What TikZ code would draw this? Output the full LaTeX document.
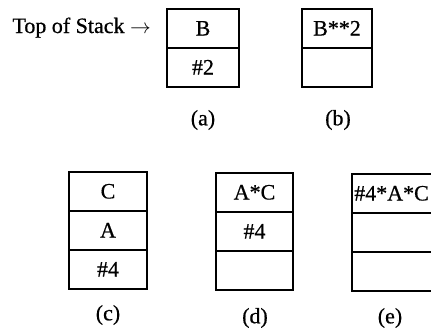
\documentclass[tikz,border=0pt]{standalone}
\usepackage{fontspec}
\setmainfont[FakeBold=0.6]{Liberation Serif}
\usepackage{tikz}
\usetikzlibrary{positioning}

\begin{document}
\begin{tikzpicture}[x=1pt,y=-1pt,font=\fontsize{22}{26}\selectfont,
  cell/.style={draw,line width=1.8pt,outer sep=0pt,inner sep=0pt,
    minimum height=39pt,minimum width=#1,text height=14pt,text depth=0pt},
  caption/.style={inner sep=0pt}]
  \useasboundingbox (0,0) rectangle (431,327);
  % stack (a)
  \node[cell=72pt] (a1) at (203,28.5) {B};
  \node[cell=72pt] (a2) at (203,67.5) {\#2};
  \node[anchor=base east,inner sep=0pt] (tos) at (151,33) {Top of Stack $\rightarrow$};
  \node[caption] (capa) at (203,120) {(a)};
  % stack (b)
  \node[cell=70pt] (b1) at (337,28.5) {B**2};
  \node[cell=70pt] (b2) at (337,67.5) {};
  \node[caption] (capb) at (338,120) {(b)};
  % stack (c)
  \node[cell=78pt] (c1) at (108,191.5) {C};
  \node[cell=78pt] (c2) at (108,230.5) {A};
  \node[cell=78pt] (c3) at (108,269.5) {\#4};
  \node[caption] (capc) at (108,315) {(c)};
  % stack (d)
  \node[cell=77pt] (d1) at (254.5,192.5) {A*C};
  \node[cell=77pt] (d2) at (254.5,231.5) {\#4};
  \node[cell=77pt] (d3) at (254.5,270.5) {};
  \node[caption] (capd) at (255,318) {(d)};
  % stack (e)
  \node[cell=86pt] (e1) at (395,193.5) {\#4*A*C\kern7pt};
  \node[cell=86pt] (e2) at (395,232.5) {};
  \node[cell=86pt] (e3) at (395,271.5) {};
  \node[caption] (cape) at (390,318) {(e)};
\end{tikzpicture}
\end{document}
